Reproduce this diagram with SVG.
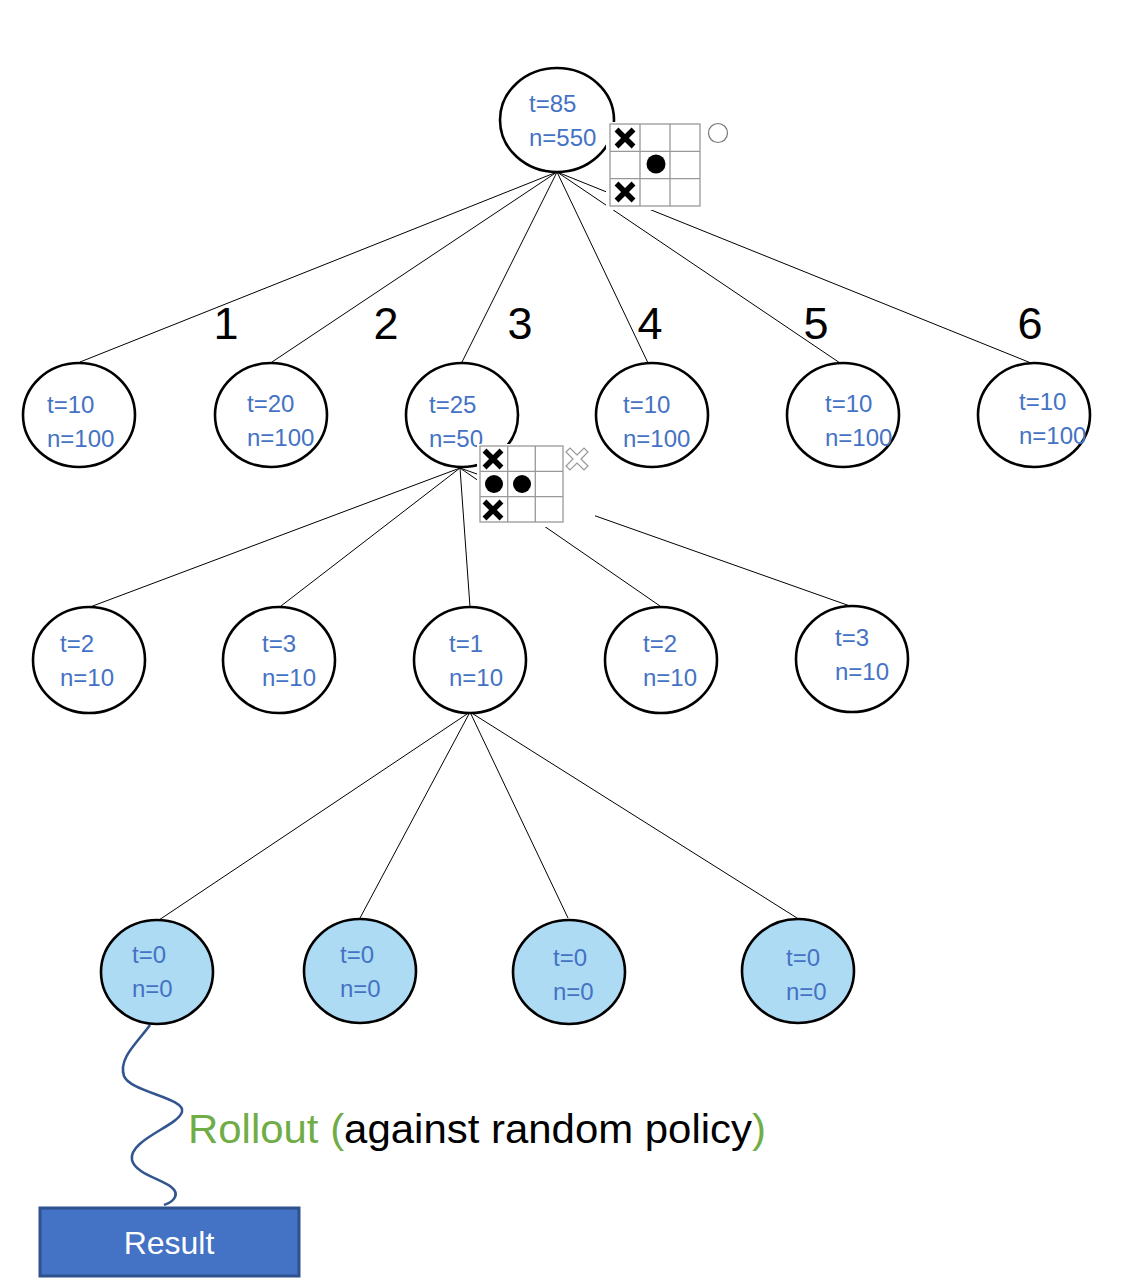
<svg xmlns="http://www.w3.org/2000/svg" xmlns:xlink="http://www.w3.org/1999/xlink" width="1134" height="1288" viewBox="0 0 1134 1288">
<style>
  .edge{stroke:#000;stroke-width:1;fill:none}
  .node{fill:#fff;stroke:#000;stroke-width:2.6}
  .leaf{fill:#AEDBF4;stroke:#000;stroke-width:2.6}
  .lbl{font-family:"Liberation Sans",Arial,sans-serif;font-size:24px;fill:#4472C4}
  .num{font-family:"Liberation Sans",Arial,sans-serif;font-size:45px;fill:#000;text-anchor:middle}
  .grid{fill:#fff;stroke:#999;stroke-width:1.3}
  .occ{fill:#fff;stroke:none}
  .xm{stroke:#000;stroke-width:5.5;stroke-linecap:butt}
</style>
<defs>
  <g id="xmark"><path class="xm" d="M-8.5,-8.5 L8.5,8.5 M8.5,-8.5 L-8.5,8.5"/></g>
</defs>
<rect width="1134" height="1288" fill="#fff"/>

<g id="connectors">
  <line class="edge" x1="557" y1="172" x2="80" y2="362"/>
  <line class="edge" x1="557" y1="172" x2="272" y2="362"/>
  <line class="edge" x1="557" y1="172" x2="462" y2="362"/>
  <line class="edge" x1="557" y1="172" x2="648" y2="363"/>
  <line class="edge" x1="557" y1="172" x2="840" y2="363"/>
  <line class="edge" x1="557" y1="172" x2="1031" y2="363"/>
  <line class="edge" x1="460" y1="468" x2="90" y2="607"/>
  <line class="edge" x1="460" y1="468" x2="281" y2="606"/>
  <line class="edge" x1="460" y1="468" x2="470" y2="607"/>
  <line class="edge" x1="460" y1="468" x2="660" y2="606"/>
  <line class="edge" x1="460" y1="468" x2="850" y2="606"/>
  <line class="edge" x1="470" y1="712" x2="159" y2="920"/>
  <line class="edge" x1="470" y1="712" x2="360" y2="918"/>
  <line class="edge" x1="470" y1="712" x2="568" y2="918"/>
  <line class="edge" x1="470" y1="712" x2="797" y2="918"/>
  <path d="M150,1025 C138,1042 118,1058 124,1076 C130,1092 186,1098 182,1112 C178,1126 128,1140 132,1160 C136,1178 182,1182 175,1197 C172,1203 166,1204 164,1205" fill="none" stroke="#33558F" stroke-width="2.6"/>
</g>

<g id="edge-labels">
  <text class="num" x="226" y="339">1</text>
  <text class="num" x="386" y="339">2</text>
  <text class="num" x="520" y="339">3</text>
  <text class="num" x="650" y="339">4</text>
  <text class="num" x="816" y="339">5</text>
  <text class="num" x="1030" y="339">6</text>
</g>

<g id="root">
  <ellipse class="node" cx="557" cy="120" rx="57" ry="52"/>
  <text class="lbl" x="529" y="112">t=85</text>
  <text class="lbl" x="529" y="146">n=550</text>
</g>

<g id="n1"><ellipse class="node" cx="79" cy="415" rx="56" ry="52"/><text class="lbl" x="47" y="413">t=10</text><text class="lbl" x="47" y="447">n=100</text></g>
<g id="n2"><ellipse class="node" cx="271" cy="415" rx="56" ry="52"/><text class="lbl" x="247" y="412">t=20</text><text class="lbl" x="247" y="446">n=100</text></g>
<g id="n3"><ellipse class="node" cx="462" cy="415" rx="56" ry="52"/><text class="lbl" x="429" y="413">t=25</text><text class="lbl" x="429" y="447">n=50</text></g>
<g id="n4"><ellipse class="node" cx="652" cy="415" rx="56" ry="52"/><text class="lbl" x="623" y="413">t=10</text><text class="lbl" x="623" y="447">n=100</text></g>
<g id="n5"><ellipse class="node" cx="843" cy="415" rx="56" ry="52"/><text class="lbl" x="825" y="412">t=10</text><text class="lbl" x="825" y="446">n=100</text></g>
<g id="n6"><ellipse class="node" cx="1034" cy="415" rx="56" ry="52"/><text class="lbl" x="1019" y="410">t=10</text><text class="lbl" x="1019" y="444">n=100</text></g>

<g id="n31"><ellipse class="node" cx="89" cy="660" rx="56" ry="53"/><text class="lbl" x="60" y="652">t=2</text><text class="lbl" x="60" y="686">n=10</text></g>
<g id="n32"><ellipse class="node" cx="279" cy="660" rx="56" ry="53"/><text class="lbl" x="262" y="652">t=3</text><text class="lbl" x="262" y="686">n=10</text></g>
<g id="n33"><ellipse class="node" cx="470" cy="660" rx="56" ry="53"/><text class="lbl" x="449" y="652">t=1</text><text class="lbl" x="449" y="686">n=10</text></g>
<g id="n34"><ellipse class="node" cx="661" cy="660" rx="56" ry="53"/><text class="lbl" x="643" y="652">t=2</text><text class="lbl" x="643" y="686">n=10</text></g>
<g id="n35"><ellipse class="node" cx="852" cy="659" rx="56" ry="53"/><text class="lbl" x="835" y="646">t=3</text><text class="lbl" x="835" y="680">n=10</text></g>

<g id="leaf1"><ellipse class="leaf" cx="157" cy="972" rx="56" ry="52"/><text class="lbl" x="132" y="963">t=0</text><text class="lbl" x="132" y="997">n=0</text></g>
<g id="leaf2"><ellipse class="leaf" cx="360" cy="971" rx="56" ry="52"/><text class="lbl" x="340" y="963">t=0</text><text class="lbl" x="340" y="997">n=0</text></g>
<g id="leaf3"><ellipse class="leaf" cx="569" cy="972" rx="56" ry="52"/><text class="lbl" x="553" y="966">t=0</text><text class="lbl" x="553" y="1000">n=0</text></g>
<g id="leaf4"><ellipse class="leaf" cx="798" cy="971" rx="56" ry="52"/><text class="lbl" x="786" y="966">t=0</text><text class="lbl" x="786" y="1000">n=0</text></g>

<g id="board-root">
  <rect class="occ" x="606" y="122" width="102" height="88"/>
  <rect class="grid" x="610" y="124" width="90" height="82"/>
  <path d="M640,124 V206 M670,124 V206 M610,151.3 H700 M610,178.6 H700" stroke="#999" stroke-width="1.3" fill="none"/>
  <use xlink:href="#xmark" x="625" y="138"/>
  <use xlink:href="#xmark" x="625" y="192"/>
  <circle cx="656" cy="164" r="9.5" fill="#000"/>
  <circle cx="718" cy="133" r="9.5" fill="#fff" stroke="#777" stroke-width="1.2"/>
</g>

<g id="board-n3">
  <rect class="occ" x="477" y="444" width="118" height="83"/>
  <rect class="grid" x="480" y="446" width="83" height="76"/>
  <path d="M507.7,446 V522 M535.3,446 V522 M480,471.3 H563 M480,496.6 H563" stroke="#999" stroke-width="1.3" fill="none"/>
  <use xlink:href="#xmark" x="493" y="459"/>
  <use xlink:href="#xmark" x="493" y="510"/>
  <circle cx="494" cy="484" r="9" fill="#000"/>
  <circle cx="522" cy="484" r="9" fill="#000"/>
  <polygon points="577,455 584,448 588,452 581,459 588,466 584,470 577,463 570,470 566,466 573,459 566,452 570,448" fill="#fff" stroke="#999" stroke-width="1.2"/>
</g>

<g id="rollout-label">
  <text x="188" y="1143" font-family="'Liberation Sans',Arial,sans-serif" font-size="41" textLength="578" lengthAdjust="spacingAndGlyphs"><tspan fill="#70AD47">Rollout (</tspan><tspan fill="#000">against random policy</tspan><tspan fill="#70AD47">)</tspan></text>
</g>

<g id="result">
  <rect x="40" y="1208" width="259" height="68" fill="#4472C4" stroke="#2F528F" stroke-width="3"/>
  <text x="169" y="1254" font-family="'Liberation Sans',Arial,sans-serif" font-size="32" fill="#fff" text-anchor="middle">Result</text>
</g>
</svg>
